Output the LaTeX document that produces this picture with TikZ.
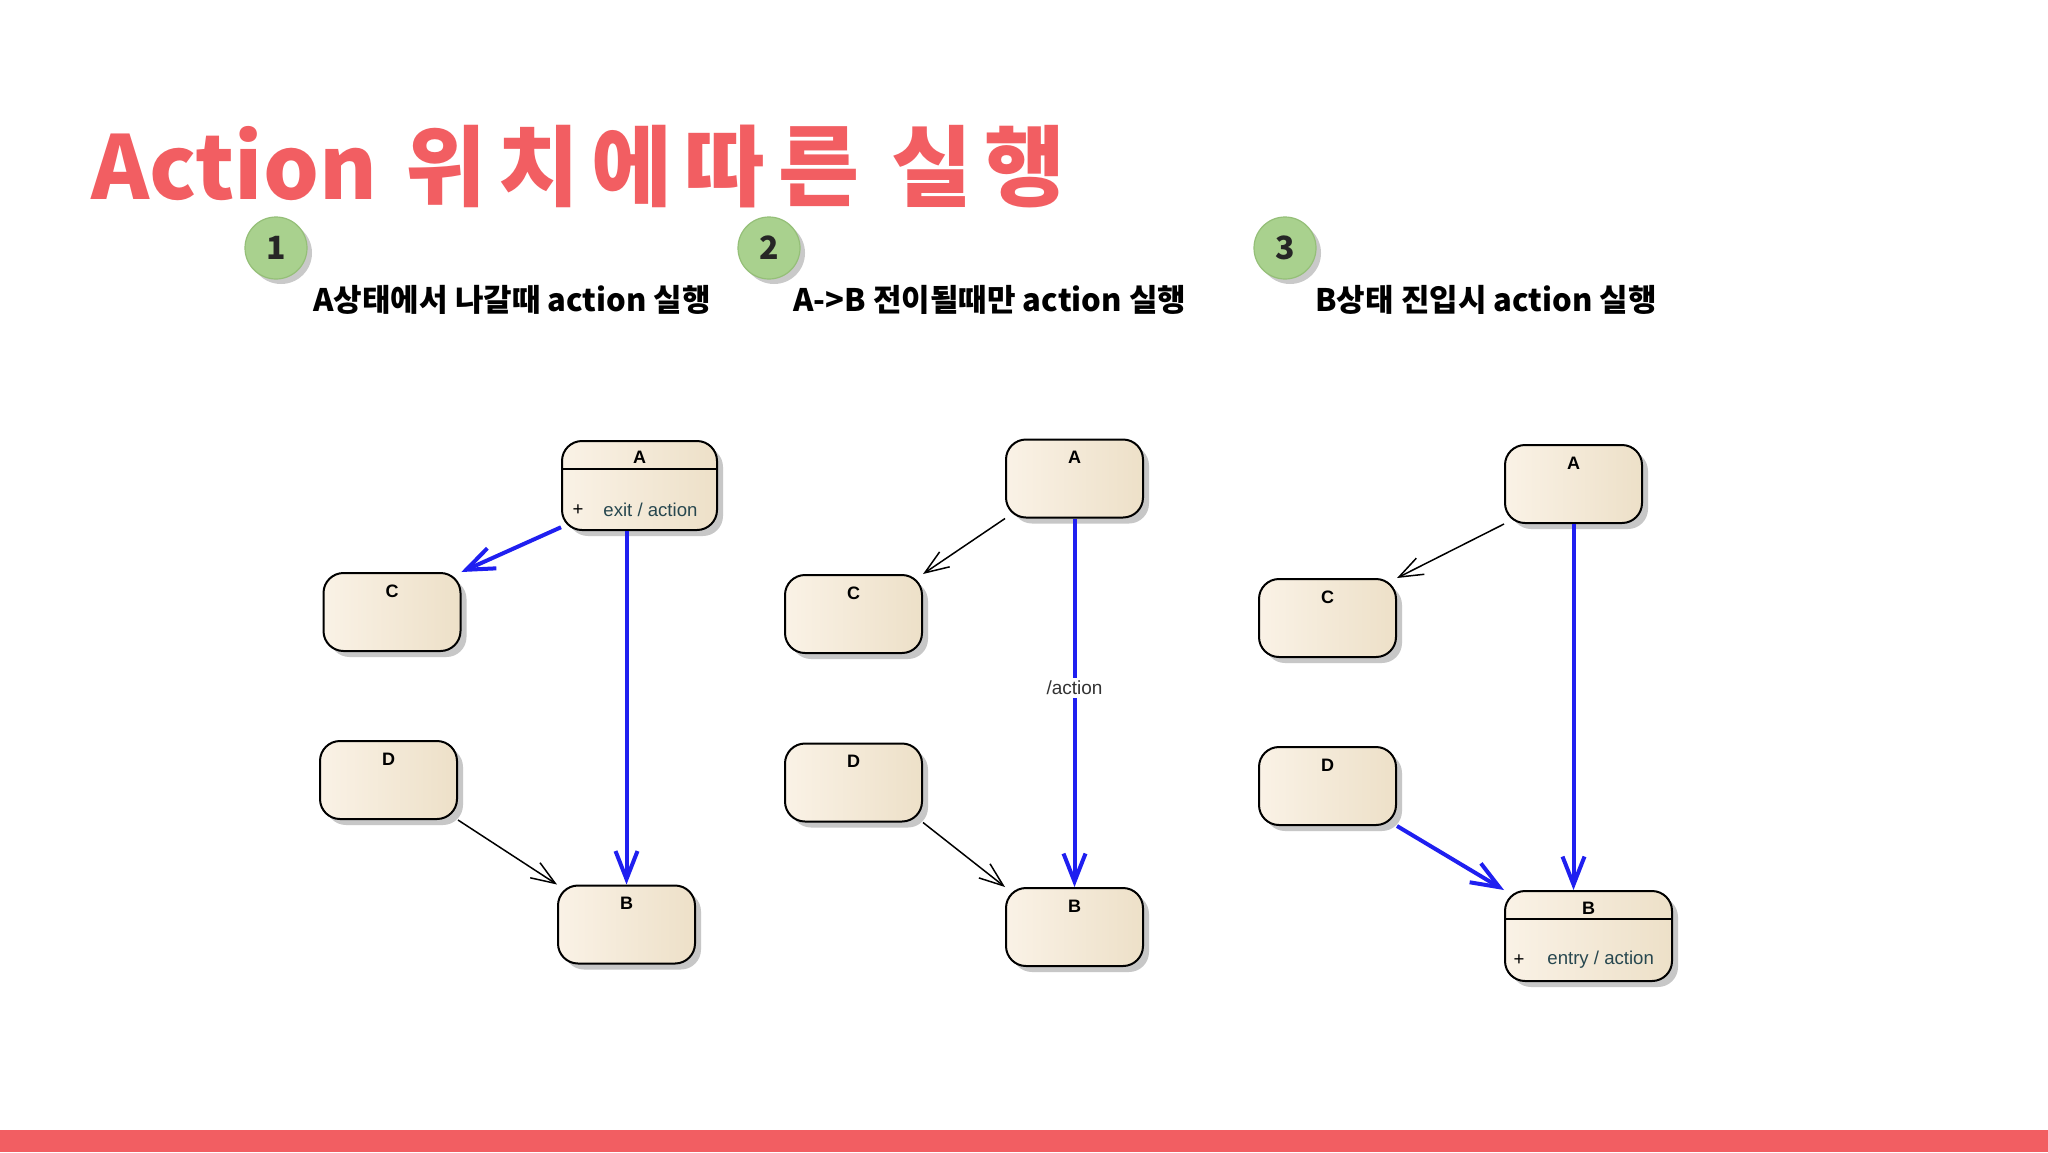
\documentclass[tikz,border=0pt]{standalone}
\usepackage{fontspec}
\setmainfont{Liberation Sans}
\newfontfamily\kr{Noto Sans CJK KR}
\newfontfamily\krwide{Noto Sans CJK KR}[LetterSpace=14]
\usetikzlibrary{arrows.meta,shadows}
\definecolor{titlered}{HTML}{F25E62}
\definecolor{boxL}{HTML}{FAF2E6}
\definecolor{boxR}{HTML}{EDE0C8}
\definecolor{umlblue}{HTML}{1F1FF0}
\definecolor{circfill}{HTML}{A9D18E}
\definecolor{circdraw}{HTML}{95BF78}
\definecolor{comptext}{HTML}{27474F}
\begin{document}
\begin{tikzpicture}[x=0.5pt,y=-0.5pt,
  state/.style={draw=black, line width=1pt, rounded corners=10pt,
    left color=boxL, right color=boxR, inner sep=0pt,
    minimum width=68.5pt, minimum height=39pt,
    drop shadow={shadow xshift=3pt, shadow yshift=-3pt, fill=black!40, opacity=0.55}},
  splitstate/.style={state, path picture={\draw[line width=1pt]
    ([yshift=-14pt]path picture bounding box.north west) --
    ([yshift=-14pt]path picture bounding box.north east);}},
  lab/.style={font=\bfseries\fontsize{9}{10}\selectfont, inner sep=0pt},
  comp/.style={font=\fontsize{9.3}{11}\selectfont, text=comptext, inner sep=0pt},
  blueline/.style={draw=umlblue, line width=2pt, -{Straight Barb[length=14pt,width=11pt,line width=2pt]}},
  blackline/.style={draw=black, line width=0.75pt, -{Straight Barb[length=12pt,width=9pt,line width=0.75pt]}},
  circ/.style={circle, fill=circfill, draw=circdraw, line width=0.6pt, minimum size=31pt, inner sep=0pt,
    font=\kr\bfseries\fontsize{16}{18}\selectfont, text=black!85,
    drop shadow={shadow xshift=2.5pt, shadow yshift=-2.5pt, fill=black!35, opacity=0.6}},
  sub/.style={font=\kr\bfseries\fontsize{15.5}{18}\selectfont, anchor=base west, inner sep=0pt}
]
\useasboundingbox (0,0) rectangle (2048,1152);
\fill[white] (0,0) rectangle (2048,1152);

% title
\node[anchor=base west, text=titlered, font=\kr\bfseries\fontsize{44}{54}\selectfont, inner sep=0pt]
  (title) at (91,199) {Action\hspace{14pt}{\krwide\bfseries 위치에따른 실행}};

% numbered circles and subtitles
\node[circ] (n1) at (276,248) {1};
\node[circ] (n2) at (769,248) {2};
\node[circ] (n3) at (1285,248) {3};
\node[sub] (s1) at (313,311) {A상태에서 나갈때 action 실행};
\node[sub] (s2) at (793,311) {A->B 전이될때만 action 실행};
\node[sub] (s3) at (1315,311) {B상태 진입시 action 실행};

% ---------- diagram 1 ----------
\node[splitstate, minimum width=77.5pt, minimum height=44.5pt] (A1) at (639.5,485.5) {};
\node[lab] (A1t) at (639.5,457) {A};
\node[comp, text=black] (A1p) at (578,510) {+};
\node[comp, anchor=west] (A1e) at (603,510) {exit / action};
\node[state] (C1) at (392,612) {};
\node[lab] (C1t) at ([yshift=-9.5pt]C1.north) {C};
\node[state] (D1) at (388.5,780) {};
\node[lab] (D1t) at ([yshift=-9.5pt]D1.north) {D};
\node[state] (B1) at (626.5,924.5) {};
\node[lab] (B1t) at ([yshift=-9.5pt]B1.north) {B};
\draw[blueline] (A1.208) -- (C1.30);
\draw[blueline] (B1.north |- A1.south) -- (B1.north);
\draw[blackline] (D1.south east) -- (B1.north west);

% ---------- diagram 2 ----------
\node[state] (A2) at (1074.5,478.5) {};
\node[lab] (A2t) at ([yshift=-9.5pt]A2.north) {A};
\node[state] (C2) at (853.5,614) {};
\node[lab] (C2t) at ([yshift=-9.5pt]C2.north) {C};
\node[state] (D2) at (853.5,782.5) {};
\node[lab] (D2t) at ([yshift=-9.5pt]D2.north) {D};
\node[state] (B2) at (1074.5,927) {};
\node[lab] (B2t) at ([yshift=-9.5pt]B2.north) {B};
\draw[blackline] (A2.south west) -- (C2.north east);
\draw[blueline] (A2.south) -- node[pos=0.46, fill=white, inner sep=1.5pt, text=black!80,
  font=\fontsize{9.5}{11}\selectfont] (lbl2) {/action} (B2.north);
\draw[blackline] (D2.south east) -- (B2.north west);

% ---------- diagram 3 ----------
\node[state] (A3) at (1573.5,484) {};
\node[lab] (A3t) at ([yshift=-9.5pt]A3.north) {A};
\node[state] (C3) at (1327.5,618) {};
\node[lab] (C3t) at ([yshift=-9.5pt]C3.north) {C};
\node[state] (D3) at (1327.5,786) {};
\node[lab] (D3t) at ([yshift=-9.5pt]D3.north) {D};
\node[splitstate, minimum width=83.5pt, minimum height=45pt] (B3) at (1588.5,936) {};
\node[lab] (B3t) at (1588.5,908) {B};
\node[comp, text=black] (B3p) at (1519,960) {+};
\node[comp, anchor=west] (B3e) at (1547,960) {entry / action};
\draw[blackline] (A3.south west) -- (C3.north east);
\draw[blueline] (A3.south) -- (A3.south |- B3.north);
\draw[blueline] (D3.south east) -- (B3.north west);

% bottom bar
\fill[titlered] (0,1130) rectangle (2048,1152);
\end{tikzpicture}
\end{document}
